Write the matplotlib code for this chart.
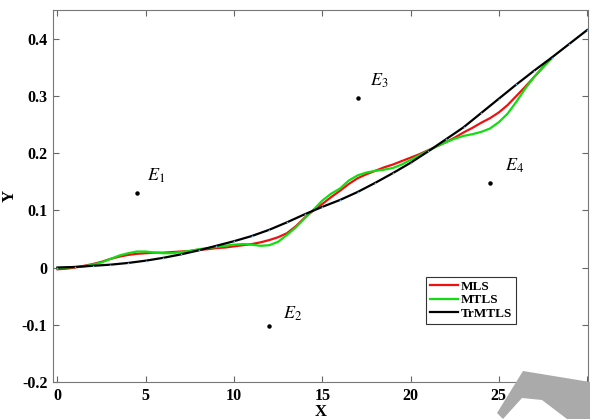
import numpy as np
import matplotlib
matplotlib.use('Agg')
import matplotlib.pyplot as plt
from matplotlib.patches import Polygon

plt.rcParams['font.family'] = ['Liberation Serif', 'DejaVu Serif']
plt.rcParams['mathtext.fontset'] = 'stix'

# TrMTLS curve, x step 1
x_fit = list(range(0, 31))
y_trmtls = [0.000, 0.001, 0.003, 0.005, 0.008, 0.012, 0.017, 0.023, 0.030, 0.038,
            0.046, 0.055, 0.066, 0.079, 0.093, 0.106, 0.118, 0.132, 0.148, 0.165,
            0.183, 0.203, 0.224, 0.245, 0.270, 0.295, 0.320, 0.344, 0.367, 0.391, 0.415]

# MLS / MTLS curves, x step 0.5 from 0 to 28
x_half = [0, 0.5, 1, 1.5, 2, 2.5, 3, 3.5, 4, 4.5, 5, 5.5, 6, 6.5, 7, 7.5, 8, 8.5, 9, 9.5,
          10, 10.5, 11, 11.5, 12, 12.5, 13, 13.5, 14, 14.5, 15, 15.5, 16, 16.5, 17, 17.5,
          18, 18.5, 19, 19.5, 20, 20.5, 21, 21.5, 22, 22.5, 23, 23.5, 24, 24.5, 25, 25.5,
          26, 26.5, 27, 27.5, 28]
y_mls = [-0.003, -0.002, 0.000, 0.003, 0.006, 0.010, 0.015, 0.019, 0.022, 0.024,
         0.025, 0.026, 0.026, 0.027, 0.028, 0.029, 0.031, 0.032, 0.034, 0.035,
         0.037, 0.039, 0.041, 0.044, 0.048, 0.053, 0.060, 0.072, 0.087, 0.100,
         0.111, 0.123, 0.134, 0.146, 0.156, 0.163, 0.169, 0.175, 0.180, 0.186,
         0.192, 0.198, 0.205, 0.212, 0.219, 0.227, 0.236, 0.244, 0.253, 0.261,
         0.271, 0.284, 0.300, 0.316, 0.333, 0.350, 0.366]
y_mtls = [-0.001, 0.000, 0.001, 0.002, 0.005, 0.009, 0.015, 0.021, 0.025, 0.028,
          0.028, 0.026, 0.025, 0.025, 0.027, 0.029, 0.032, 0.034, 0.036, 0.038,
          0.040, 0.041, 0.040, 0.038, 0.039, 0.045, 0.057, 0.070, 0.086, 0.101,
          0.117, 0.129, 0.138, 0.152, 0.161, 0.166, 0.169, 0.171, 0.174, 0.180,
          0.188, 0.196, 0.204, 0.212, 0.219, 0.225, 0.230, 0.233, 0.237, 0.243,
          0.254, 0.269, 0.290, 0.313, 0.333, 0.350, 0.366]

# outlier points
ex = [4.5, 12.0, 17.0, 24.5]
ey = [0.130, -0.102, 0.297, 0.148]
e_labels = [r'$E_1$', r'$E_2$', r'$E_3$', r'$E_4$']
lab_x = [5.6, 13.3, 18.2, 25.9]
lab_y = [0.160, -0.080, 0.326, 0.177]

fig = plt.figure(figsize=(5.9, 4.19), dpi=100)
ax = fig.add_axes([53/590, 37/419, 535/590, 372/419])

ax.plot(x_half, y_mls, color='#ee1111', lw=1.6, label='MLS')
ax.plot(x_half, y_mtls, color='#11dd11', lw=1.6, label='MTLS')
ax.plot(x_fit, y_trmtls, color='black', lw=1.6, label='TrMTLS')
ax.plot(x_fit, y_trmtls, 'o', color='#6fa8dc', ms=1.2, mew=0, zorder=5)

ax.plot(ex, ey, 'o', color='black', ms=2.2)
for lx, ly, t in zip(lab_x, lab_y, e_labels):
    ax.text(lx, ly, t, fontsize=13, ha='center', va='center')

ax.set_xlim(-0.25, 30.05)
ax.set_ylim(-0.2, 0.45)
ax.set_xticks([0, 5, 10, 15, 20, 25, 30])
ax.set_yticks([-0.2, -0.1, 0, 0.1, 0.2, 0.3, 0.4])
ax.set_yticklabels(['-0.2', '-0.1', '0', '0.1', '0.2', '0.3', '0.4'])
ax.tick_params(direction='in', length=4, top=True, right=True, color='#666666',
               labelsize=11.5, pad=4)
for lbl in ax.get_xticklabels() + ax.get_yticklabels():
    lbl.set_fontweight('bold')
for sp in ax.spines.values():
    sp.set_color('#777777')
    sp.set_linewidth(0.8)

ax.set_xlabel('X', fontsize=12, fontweight='bold', labelpad=0)
ax.set_ylabel('Y', fontsize=12, fontweight='bold')
ax.yaxis.set_label_coords(-0.066, 0.5)

leg = ax.legend(loc='upper left', bbox_to_anchor=(0.698, 0.283), fancybox=False,
                edgecolor='#333333', framealpha=1, prop={'weight': 'bold', 'size': 9.5},
                handlelength=2.1, handletextpad=0.2, borderpad=0.3, labelspacing=0.1,
                borderaxespad=0)
leg.get_frame().set_linewidth(0.8)

# grey arrow overlay at the bottom right corner
pts = [(523, 371), (590, 382), (590, 419), (567, 419), (542, 400), (522, 398),
       (503, 419), (497, 413)]
poly = Polygon([(px/590, 1 - py/419) for px, py in pts], closed=True,
               transform=fig.transFigure, facecolor='#aaaaaa', edgecolor='none', zorder=10)
fig.patches.append(poly)

plt.savefig('out.png', dpi=100)
